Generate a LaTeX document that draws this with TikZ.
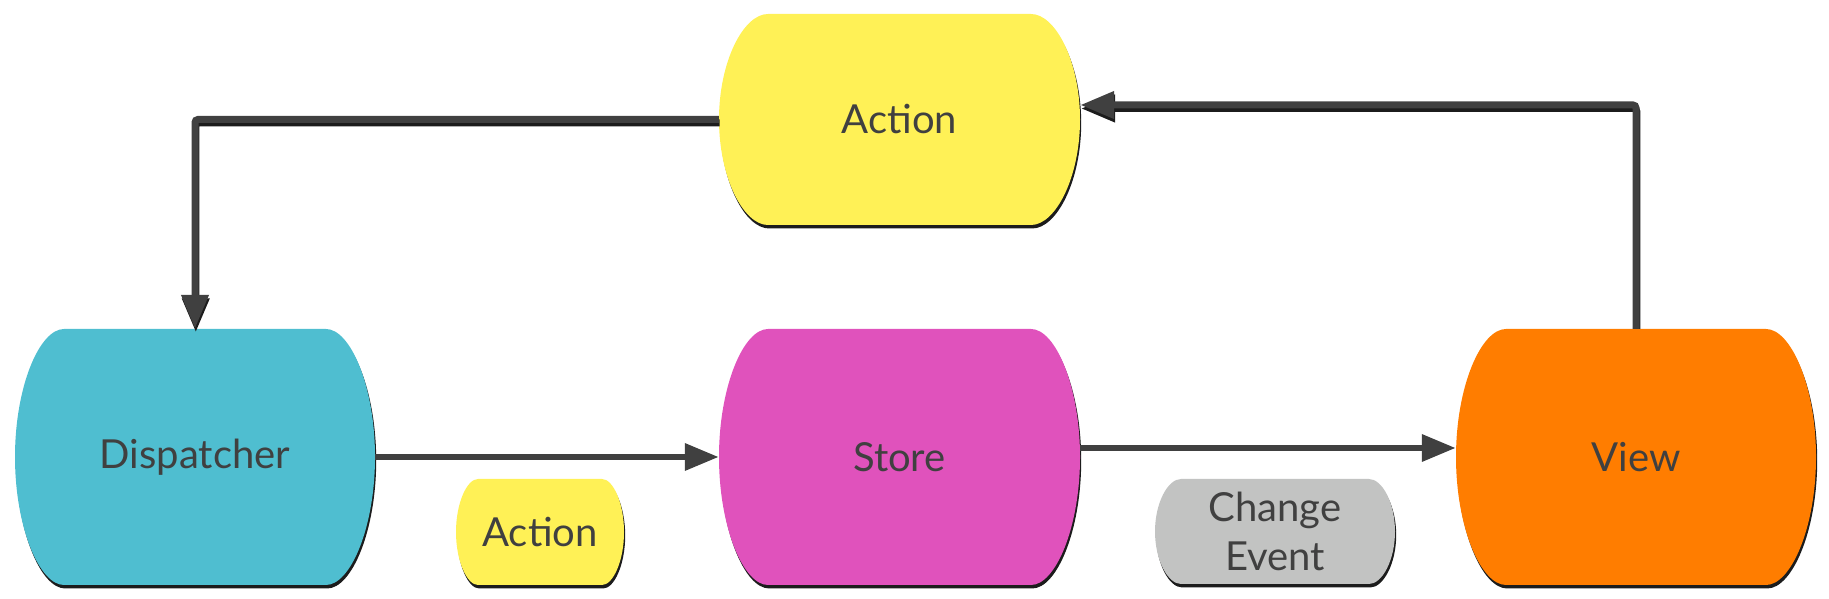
\documentclass[tikz,border=0pt]{standalone}
\usepackage{fontspec}
\setmainfont{Lato}
\usetikzlibrary{arrows.meta,calc}
\definecolor{cyanbox}{HTML}{4FBED0}
\definecolor{yellowbox}{HTML}{FFF156}
\definecolor{magentabox}{HTML}{E052BC}
\definecolor{orangebox}{HTML}{FF7D00}
\definecolor{graybox}{HTML}{C2C3C2}
\definecolor{inkgray}{HTML}{404040}
\definecolor{shadowdark}{HTML}{1C1C1C}
\tikzset{
  lbl/.style={inner sep=0pt, text=inkgray, align=center,
    font=\fontsize{40}{49}\selectfont},
  boxshadow/.style={fill=shadowdark},
  conn/.style={draw=inkgray, line width=7pt, rounded corners=3pt,
    -{Triangle[length=34pt,width=26pt]}},
  connshadow/.style={draw=shadowdark, line width=7pt, rounded corners=3pt,
    -{Triangle[length=34pt,width=26pt]}},
}
% #1 name, #2 cx, #3 cy, #4 w, #5 h, #6 inset, #7 colour, #8 text
\newcommand\barrel[8]{%
  \pgfmathsetmacro\bl{#2-#4/2}\pgfmathsetmacro\br{#2+#4/2}%
  \pgfmathsetmacro\bt{#3+#5/2}\pgfmathsetmacro\bb{#3-#5/2}%
  \pgfmathsetmacro\bli{\bl+#6}\pgfmathsetmacro\bri{\br-#6}%
  \pgfmathsetmacro\bk{0.5*#6}\pgfmathsetmacro\bv{0.55*#5/2}%
  \def\barrelpath{(\bli,\bt) -- (\bri,\bt)
    .. controls (\bri+\bk,\bt) and (\br,#3+\bv) .. (\br,#3)
    .. controls (\br,#3-\bv) and (\bri+\bk,\bb) .. (\bri,\bb)
    -- (\bli,\bb)
    .. controls (\bli-\bk,\bb) and (\bl,#3-\bv) .. (\bl,#3)
    .. controls (\bl,#3+\bv) and (\bli-\bk,\bt) .. (\bli,\bt) -- cycle}%
  \path[boxshadow, shift={(1.2,-3.5)}] \barrelpath;
  \path[fill=#7] \barrelpath;
  \node[lbl, minimum width=#4pt, minimum height=#5pt] (#1) at (#2,#3) {#8};
}
\begin{document}
\begin{tikzpicture}[x=1pt,y=1pt]
\useasboundingbox (0,0) rectangle (1829,599);
\barrel{disp}{195}{142}{360}{256}{49}{cyanbox}{Dispatcher}
\barrel{store}{899.5}{142}{361}{256}{49}{magentabox}{Store}
\barrel{view}{1636}{142}{360}{256}{50}{orangebox}{View}
\barrel{topact}{899.5}{479.5}{361}{211}{49}{yellowbox}{Action}
\barrel{smallact}{540}{67}{168}{106}{22}{yellowbox}{Action}
\barrel{chev}{1275}{67.5}{240}{105}{26}{graybox}{Change\\Event}
% connectors
\draw[connshadow] ([shift={(0.8,-3.5)}]topact.west) -| ([shift={(0.8,-3.5)}]disp.north);
\draw[conn] (topact.west) -| (disp.north);
\draw[connshadow] ([shift={(0.8,0)}]view.north) |- ([shift={(0.8,11)}]topact.east);
\draw[conn] (view.north) |- ([yshift=14.5pt]topact.east);
\draw[conn, line width=6.5pt] (disp.east) -- (store.west);
\draw[conn, line width=6.5pt] ([yshift=9pt]store.east) -- ([yshift=9pt]view.west);
\end{tikzpicture}
\end{document}
